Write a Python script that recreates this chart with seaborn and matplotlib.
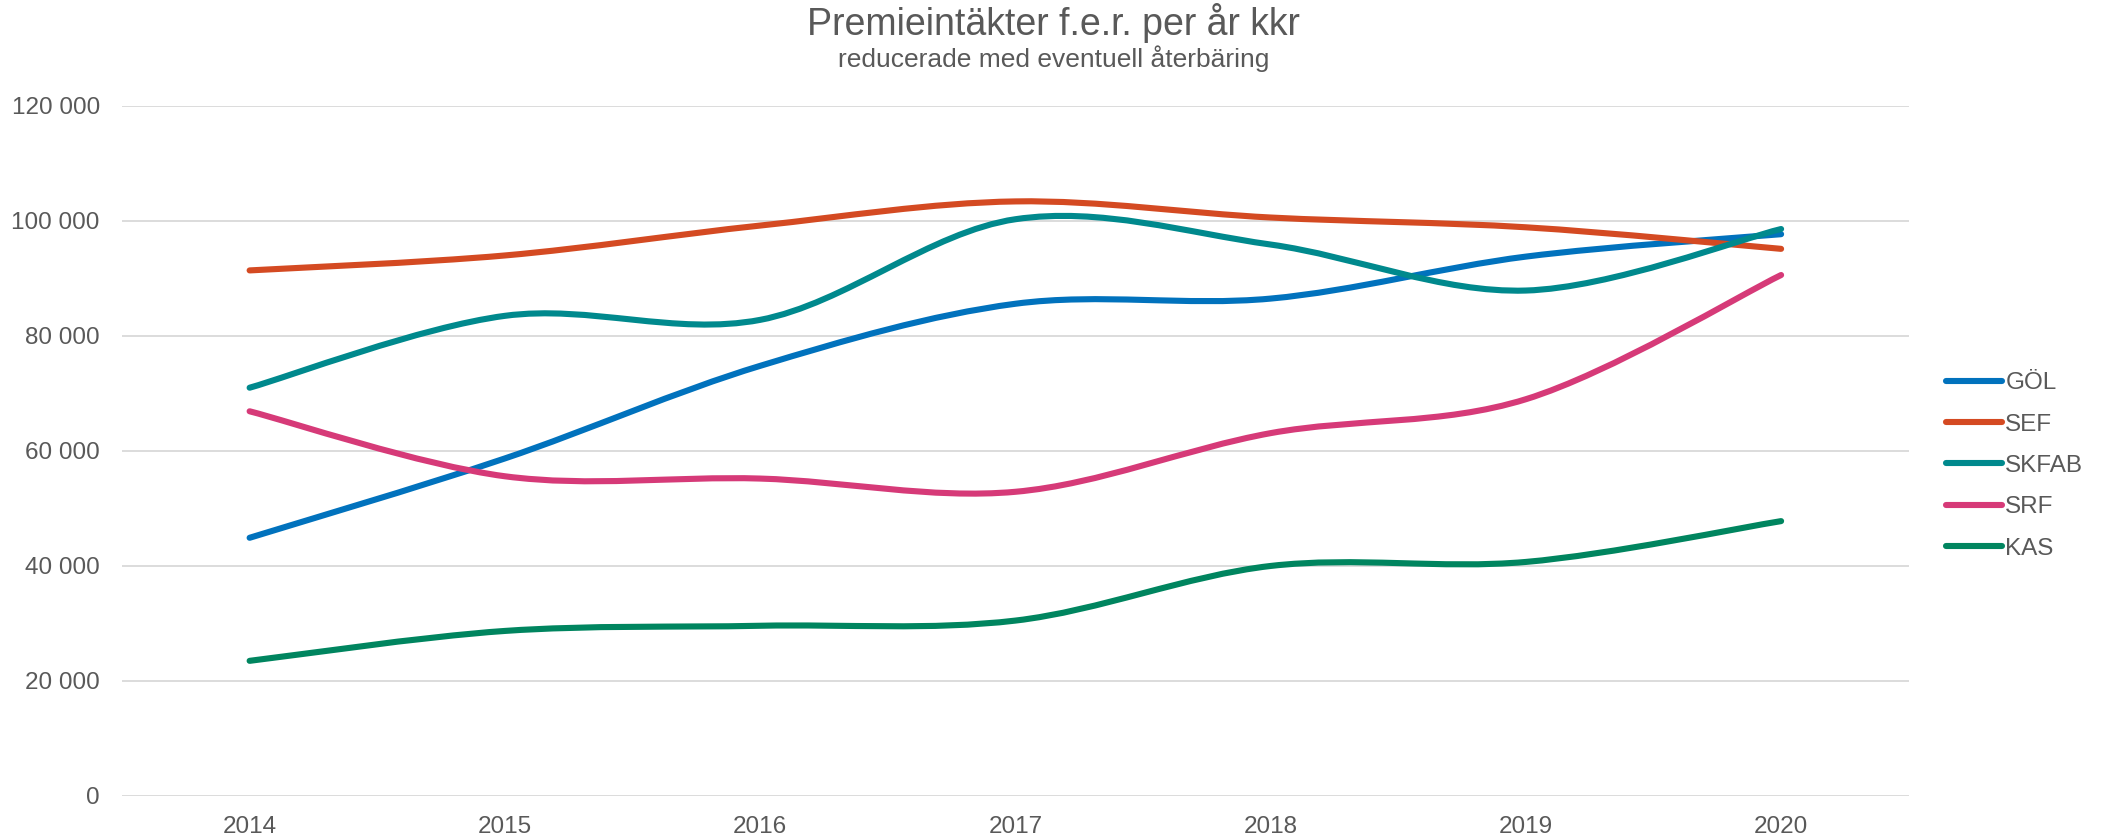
import numpy as np
import pandas as pd
import matplotlib
matplotlib.use("Agg")
import matplotlib.pyplot as plt
from matplotlib.path import Path
from matplotlib.patches import PathPatch
from matplotlib.lines import Line2D
import seaborn as sns

years = [2014, 2015, 2016, 2017, 2018, 2019, 2020]
series_names = ["GÖL", "SEF", "SKFAB", "SRF", "KAS"]
gol = [44900, 58700, 74800, 85600, 86500, 93800, 97700]
sef = [91400, 94000, 99200, 103400, 100600, 98900, 95150]
skfab = [71000, 83500, 82800, 100300, 95900, 87900, 98600]
srf = [66900, 55600, 55200, 52900, 63100, 69000, 90600]
kas = [23500, 28700, 29600, 30500, 40000, 40700, 47800]
colors = ["#0172BD", "#D44A22", "#00898D", "#D63A78", "#00855F"]
title = "Premieintäkter f.e.r. per år kkr"
subtitle = "reducerade med eventuell återbäring"
yticks = [0, 20000, 40000, 60000, 80000, 100000, 120000]

values = [gol, sef, skfab, srf, kas]
df = pd.DataFrame({
    "År": np.tile(years, len(series_names)),
    "Värde": np.concatenate(values),
    "Serie": np.repeat(series_names, len(years)),
})

sns.set_theme(style="white")
plt.rcParams["font.family"] = ["Liberation Sans", "DejaVu Sans"]
TXT = "#595959"

fig = plt.figure(figsize=(21.07, 8.39), dpi=100)
ax = fig.add_axes([0.0579, 0.0513, 0.848, 0.8224])

palette = dict(zip(series_names, colors))
sns.lineplot(data=df, x="År", y="Värde", hue="Serie", palette=palette,
             linewidth=0, legend=False, ax=ax)


def smooth_path(xs, ys):
    xs = np.asarray(xs, float)
    ys = np.asarray(ys, float)
    pts = np.column_stack([xs, ys])
    n = len(pts)
    verts = [pts[0]]
    codes = [Path.MOVETO]
    for i in range(n - 1):
        p0 = pts[i - 1] if i > 0 else pts[i]
        p1 = pts[i]
        p2 = pts[i + 1]
        p3 = pts[i + 2] if i + 2 < n else pts[i + 1]
        c1 = p1 + (p2 - p0) / 6.0
        c2 = p2 - (p3 - p1) / 6.0
        verts += [c1, c2, p2]
        codes += [Path.CURVE4] * 3
    return Path(verts, codes)


for name, col in zip(series_names, colors):
    sub = df[df["Serie"] == name]
    patch = PathPatch(smooth_path(sub["År"], sub["Värde"]), facecolor="none",
                      edgecolor=col, linewidth=4.4, capstyle="round",
                      joinstyle="round", zorder=3)
    ax.add_patch(patch)

ax.set_xlim(2013.5, 2020.5)
ax.set_ylim(0, 120000)
ax.set_xticks(years)
ax.set_xticklabels([str(y) for y in years])
ax.set_yticks(yticks)
ax.set_yticklabels([f"{v:,}".replace(",", " ") for v in yticks])
ax.tick_params(axis="both", length=0, labelsize=17.5, colors=TXT)
ax.tick_params(axis="y", pad=16)
ax.tick_params(axis="x", pad=14.5)
ax.set_xlabel("")
ax.set_ylabel("")
ax.grid(axis="y", color="#D9D9D9", linewidth=1.3)
ax.grid(axis="x", visible=False)
for s in ax.spines.values():
    s.set_visible(False)

fig.text(0.5, 0.972, title, ha="center", va="center", fontsize=27, color=TXT)
fig.text(0.5, 0.930, subtitle, ha="center", va="center", fontsize=19, color=TXT)

handles = [Line2D([0], [0], color=c, lw=4.4, solid_capstyle="round") for c in colors]
fig.legend(handles, series_names, loc="center left", bbox_to_anchor=(0.9235, 0.4446),
           frameon=False, fontsize=17.5, labelcolor=TXT, handlelength=2.3,
           handletextpad=0.15, labelspacing=0.8, borderpad=0, borderaxespad=0)

fig.savefig("out.png", dpi=100)
